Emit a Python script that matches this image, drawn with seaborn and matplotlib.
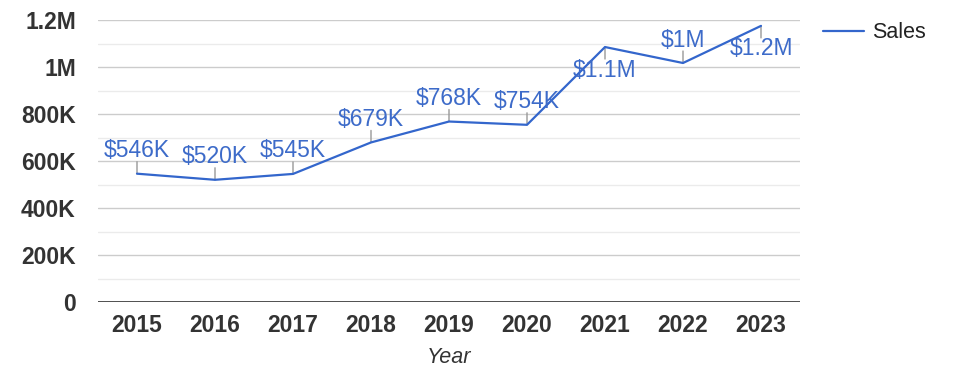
import pandas as pd
import seaborn as sns
import matplotlib.pyplot as plt
from matplotlib.ticker import MultipleLocator

# Data
years = ["2015", "2016", "2017", "2018", "2019", "2020", "2021", "2022", "2023"]
sales = [546000, 520000, 545000, 679000, 768000, 754000, 1085000, 1017000, 1175000]
point_labels = ["$546K", "$520K", "$545K", "$679K", "$768K", "$754K", "$1.1M", "$1M", "$1.2M"]
label_above = [True, True, True, True, True, True, False, True, False]

y_ticks = [0, 200000, 400000, 600000, 800000, 1000000, 1200000]
y_tick_labels = ["0", "200K", "400K", "600K", "800K", "1M", "1.2M"]

LINE_COLOR = "#3366cc"
TEXT_COLOR = "#3d6bc9"

df = pd.DataFrame({"Year": years, "Sales": sales})

sns.set_style("white")
plt.rcParams["font.family"] = ["Liberation Sans", "DejaVu Sans"]

fig = plt.figure(figsize=(9.75, 3.78), dpi=100)
ax = fig.add_axes([98 / 975, 1 - 302 / 378, 702 / 975, 282 / 378])

sns.lineplot(data=df, x="Year", y="Sales", ax=ax, color=LINE_COLOR,
             linewidth=1.6, label="Sales", zorder=3)

ax.set_xlim(-0.5, len(years) - 0.5)
ax.set_ylim(0, 1200000)
ax.set_yticks(y_ticks)
ax.set_yticklabels(y_tick_labels)
ax.yaxis.set_minor_locator(MultipleLocator(100000))

# gridlines: major and lighter minor ones
ax.grid(axis="y", which="major", color="#cccccc", linewidth=1, zorder=0)
ax.grid(axis="y", which="minor", color="#ebebeb", linewidth=1, zorder=0)
ax.grid(axis="x", visible=False)
ax.axhline(0, color="#333333", linewidth=1.2, zorder=2)

for side in ["top", "right", "left", "bottom"]:
    ax.spines[side].set_visible(False)
ax.tick_params(axis="both", which="both", length=0)
ax.tick_params(axis="y", pad=16)
ax.tick_params(axis="x", pad=9)

for lbl in ax.get_xticklabels() + ax.get_yticklabels():
    lbl.set_fontsize(16.5)
    lbl.set_fontweight("bold")
    lbl.set_color("#333333")

ax.set_xlabel("Year", fontsize=15.5, fontstyle="italic", color="#333333", labelpad=7)
ax.set_ylabel("")

# annotation stems and labels
for i, (v, txt, up) in enumerate(zip(sales, point_labels, label_above)):
    sign = 1 if up else -1
    ax.annotate("", xy=(i, v), xytext=(0, sign * 12), textcoords="offset pixels",
                arrowprops=dict(arrowstyle="-", color="#999999", lw=1,
                                shrinkA=0, shrinkB=0), zorder=2)
    ax.annotate(txt, xy=(i, v), xytext=(0, sign * 11.5), textcoords="offset pixels",
                ha="center", va="bottom" if up else "top",
                fontsize=16.5, color=TEXT_COLOR, zorder=4)

leg = ax.legend(loc="upper left", bbox_to_anchor=(1.005, 1.06), frameon=False,
                fontsize=15.5, handlelength=1.9, handletextpad=0.4)
for t in leg.get_texts():
    t.set_color("#222222")

fig.savefig("out.png", dpi=100)
